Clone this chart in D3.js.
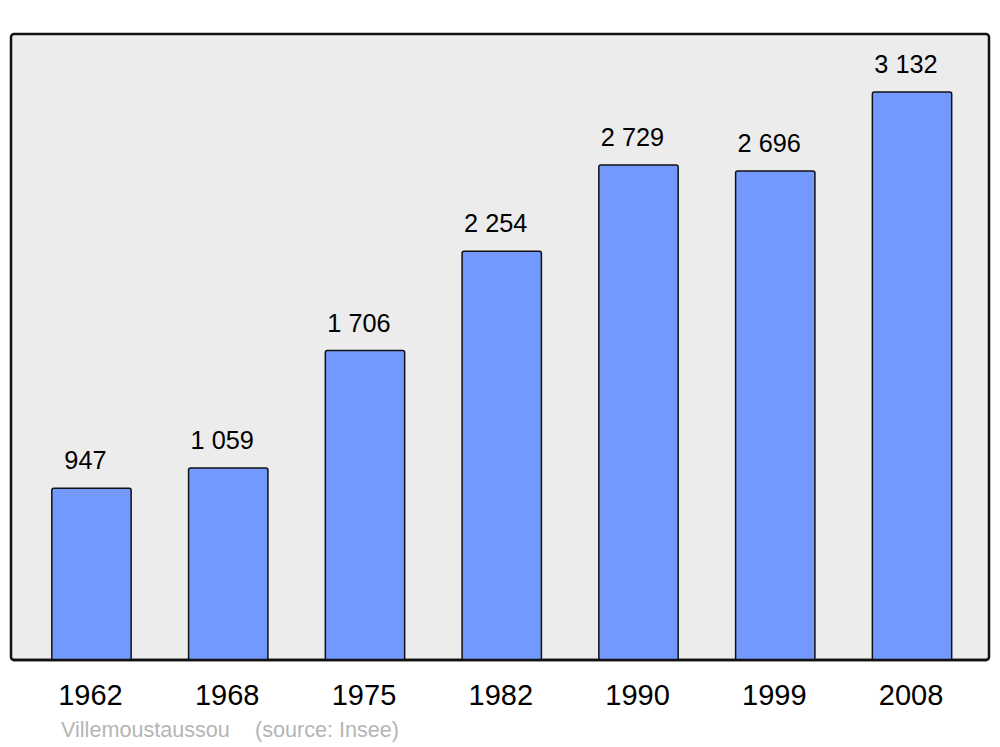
<!DOCTYPE html>
<html><head><meta charset="utf-8">
<script src="https://cdn.jsdelivr.net/npm/d3@7"></script>
<style>body{margin:0;background:#fff}svg{display:block;font-family:"Liberation Sans",Arial,sans-serif}</style>
</head><body>
<script>
const years = ["1962","1968","1975","1982","1990","1999","2008"];
const population = [947,1059,1706,2254,2729,2696,3132];
const valueLabels = ["947","1 059","1 706","2 254","2 729","2 696","3 132"];
const commune = "Villemoustaussou";
const source = "(source: Insee)";

const W=1000,H=747;
const svg=d3.select("body").append("svg").attr("width",W).attr("height",H);
const panel={x0:11,y0:34,x1:989,y1:660};
svg.append("rect").attr("x",panel.x0).attr("y",panel.y0)
  .attr("width",panel.x1-panel.x0).attr("height",panel.y1-panel.y0)
  .attr("rx",3).attr("fill","#ececec").attr("stroke","#111").attr("stroke-width",2.5);

const x=d3.scaleBand().domain(years).range([23.1,980.4]).paddingInner(0.42).paddingOuter(0.21);
const y=d3.scaleLinear().domain([0,3132]).range([panel.y1,92]);

const g=svg.append("g");
g.selectAll("rect.bar").data(years).join("rect").attr("class","bar")
  .attr("x",d=>x(d)).attr("width",x.bandwidth())
  .attr("y",(d,i)=>y(population[i])).attr("height",(d,i)=>panel.y1-y(population[i]))
  .attr("rx",2).attr("fill","#7399ff").attr("stroke","#111").attr("stroke-width",1.5);

g.selectAll("text.val").data(years).join("text").attr("class","val")
  .attr("x",d=>x(d)+x.bandwidth()/2-6).attr("y",(d,i)=>y(population[i])-19)
  .attr("text-anchor","middle").attr("font-size",25.3).attr("fill","#000")
  .text((d,i)=>valueLabels[i]);

// redraw bottom border over bars
svg.append("line").attr("x1",panel.x0+2).attr("x2",panel.x1-2).attr("y1",panel.y1).attr("y2",panel.y1)
  .attr("stroke","#111").attr("stroke-width",2.5);

const axis=d3.axisBottom(x).tickSize(0).tickPadding(0);
const ax=svg.append("g").attr("transform",`translate(0,${panel.y1})`).call(axis);
ax.select(".domain").remove();
ax.selectAll("text").attr("font-size",29).attr("fill","#000")
  .attr("font-family","'Liberation Sans',Arial,sans-serif")
  .attr("dy",null).attr("y",45).attr("dx",-1);

svg.append("text").attr("x",61).attr("y",737).attr("font-size",21.6).attr("fill","#b5b5b5").text(commune);
svg.append("text").attr("x",255).attr("y",737).attr("font-size",21.6).attr("fill","#b5b5b5").text(source);
</script>
</body></html>
